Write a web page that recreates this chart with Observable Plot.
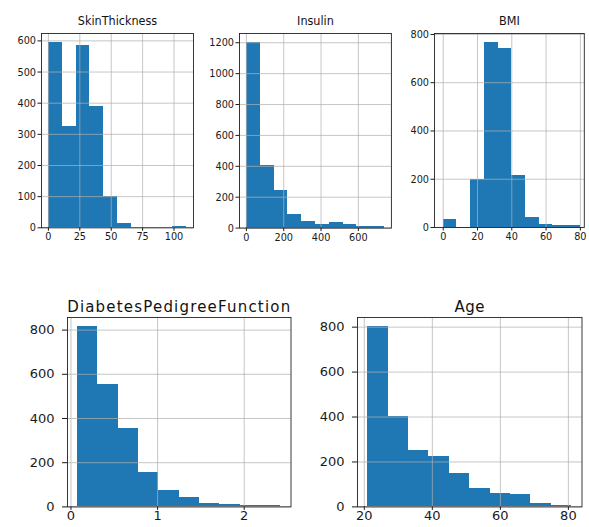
<!DOCTYPE html>
<html>
<head>
<meta charset="utf-8">
<script src="https://cdn.jsdelivr.net/npm/d3@7"></script>
<script src="https://cdn.jsdelivr.net/npm/@observablehq/plot@0.6"></script>
<style>
  html, body { margin: 0; padding: 0; background: #fff; }
  #chart { position: relative; width: 589px; height: 527px; overflow: hidden; background: #fff; }
  #chart svg { position: absolute; overflow: visible; }
</style>
</head>
<body>
<div id="chart"></div>
<script>
// ---- Data ----
const skinTitle = "SkinThickness";
const skinEdges = [0, 11, 22, 33, 44, 55, 66, 77, 88, 99, 110];
const skinCounts = [594, 326, 586, 388, 101, 14, 0, 0, 0, 4];
const skinXTicks = [0, 25, 50, 75, 100];
const skinYTicks = [0, 100, 200, 300, 400, 500, 600];

const insulinTitle = "Insulin";
const insulinEdges = [0, 74, 148, 222, 296, 370, 444, 518, 592, 666, 740];
const insulinCounts = [1200, 408, 246, 89, 45, 22, 39, 22, 13, 13];
const insulinXTicks = [0, 200, 400, 600];
const insulinYTicks = [0, 200, 400, 600, 800, 1000, 1200];

const bmiTitle = "BMI";
const bmiEdges = [0, 8, 16, 24, 32, 40, 48, 56, 64, 72, 80];
const bmiCounts = [35, 0, 200, 766, 740, 214, 40, 14, 7, 7];
const bmiXTicks = [0, 20, 40, 60, 80];
const bmiYTicks = [0, 200, 400, 600, 800];

const dpfTitle = "DiabetesPedigreeFunction";
const dpfEdges = [0.078, 0.312, 0.547, 0.781, 1.015, 1.249, 1.484, 1.718, 1.952, 2.186, 2.420];
const dpfCounts = [816, 552, 353, 155, 76, 42, 15, 9, 7, 6];
const dpfXTicks = [0, 1, 2];
const dpfYTicks = [0, 200, 400, 600, 800];

const ageTitle = "Age";
const ageEdges = [21, 27, 33, 39, 45, 51, 57, 63, 69, 75, 81];
const ageCounts = [803, 403, 249, 225, 147, 80, 59, 55, 15, 7];
const ageXTicks = [20, 40, 60, 80];
const ageYTicks = [0, 200, 400, 600, 800];

// ---- Drawing ----
const container = document.getElementById("chart");

function panel(cfg) {
  const [L, T, R, B] = cfg.frame;
  const mL = 56, mR = 10, mT = 40, mB = 28;
  const rows = cfg.counts.map((c, i) => ({x1: cfg.edges[i], x2: cfg.edges[i + 1], y: c}));
  const svg = Plot.plot({
    width: (R - L) + mL + mR,
    height: (B - T) + mT + mB,
    marginLeft: mL, marginRight: mR, marginTop: mT, marginBottom: mB,
    x: {domain: cfg.xDomain},
    y: {domain: cfg.yDomain},
    style: {fontFamily: cfg.font, fontSize: cfg.tickFont + "px", color: "#1a1a1a", background: "transparent", overflow: "visible"},
    marks: [
      Plot.rectY(rows, {x1: "x1", x2: "x2", y: "y", fill: "#1f77b4", inset: 0, shapeRendering: "crispEdges"}),
      Plot.gridX(cfg.xTicks, {stroke: "#b0b0b0", strokeOpacity: 0.9, strokeWidth: 0.8}),
      Plot.gridY(cfg.yTicks, {stroke: "#b0b0b0", strokeOpacity: 0.9, strokeWidth: 0.8}),
      Plot.axisX(cfg.xTicks, {tickSize: cfg.xTickLen, tickPadding: cfg.xPad, label: null, tickFormat: d => String(d)}),
      Plot.axisY(cfg.yTicks, {tickSize: cfg.yTickLen, tickPadding: cfg.yPad, label: null, tickFormat: d => String(d)}),
      Plot.frame({stroke: "#222", strokeWidth: 0.9}),
      Plot.text([cfg.title], {text: d => d, frameAnchor: "top", lineAnchor: "bottom", dy: cfg.titleDy, fontSize: cfg.titleSize, fill: "#111"})
    ]
  });
  svg.querySelectorAll("text").forEach(t => {
    if (t.textContent === cfg.title) t.style.letterSpacing = cfg.titleSpacing + "px";
  });
  svg.style.left = (L - mL) + "px";
  svg.style.top = (T - mT) + "px";
  container.appendChild(svg);
}

const topFont = "'DejaVu Sans Condensed', 'Liberation Sans Narrow', 'DejaVu Sans', sans-serif";
const botFont = "'DejaVu Sans', sans-serif";
const topStyle = {font: topFont, tickFont: 10.8, titleSize: 12.5, titleDy: -8, titleSpacing: 0,
  xTickLen: 3.5, xPad: 1.5, yTickLen: 3.5, yPad: 2};
const botStyle = {font: botFont, tickFont: 13, titleSize: 15, titleDy: -5.5,
  xTickLen: 3.5, xPad: 0, yTickLen: 5, yPad: 8};

panel({...topStyle, title: skinTitle, edges: skinEdges, counts: skinCounts, xTicks: skinXTicks, yTicks: skinYTicks,
  frame: [40.7, 33, 192.7, 227.3], xDomain: [-5.5, 115.5], yDomain: [0, 623.7]});
panel({...topStyle, title: insulinTitle, edges: insulinEdges, counts: insulinCounts, xTicks: insulinXTicks, yTicks: insulinYTicks,
  frame: [238.8, 32.7, 390.7, 227.3], xDomain: [-37, 777], yDomain: [0, 1260]});
panel({...topStyle, title: bmiTitle, edges: bmiEdges, counts: bmiCounts, xTicks: bmiXTicks, yTicks: bmiYTicks,
  frame: [433.5, 33.3, 583.3, 227.3], xDomain: [-5.1, 82.3], yDomain: [0, 804]});
panel({...botStyle, titleSpacing: 1.2, title: dpfTitle, edges: dpfEdges, counts: dpfCounts, xTicks: dpfXTicks, yTicks: dpfYTicks,
  frame: [67, 317.3, 290.5, 506.7], xDomain: [-0.04, 2.54], yDomain: [0, 857]});
panel({...botStyle, titleSpacing: 0.5, title: ageTitle, edges: ageEdges, counts: ageCounts, xTicks: ageXTicks, yTicks: ageYTicks,
  frame: [357, 317.3, 581.5, 506.7], xDomain: [18, 84], yDomain: [0, 843]});
</script>
</body>
</html>
